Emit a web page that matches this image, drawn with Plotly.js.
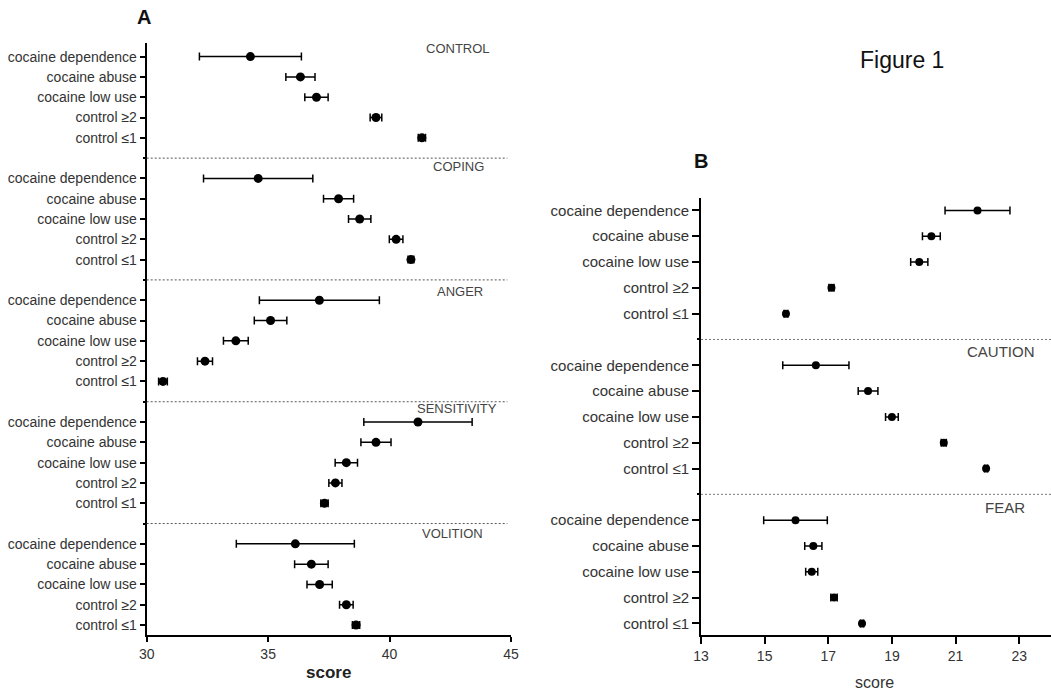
<!DOCTYPE html>
<html><head><meta charset="utf-8">
<script src="https://cdn.plot.ly/plotly-3.0.1.min.js"></script>
<style>html,body{margin:0;padding:0;background:#fff}#chart{width:1051px;height:692px}</style>
</head><body><div id="chart"></div>
<script>
// ---------- data ----------
const rowLabels = ['cocaine dependence', 'cocaine abuse', 'cocaine low use', 'control ≥2', 'control ≤1'];

const groupsA = ['CONTROL', 'COPING', 'ANGER', 'SENSITIVITY', 'VOLITION'];
const controlMean     = [34.27, 36.33, 36.99, 39.44, 41.33];
const controlErr      = [2.10, 0.60, 0.48, 0.24, 0.15];
const copingMean      = [34.59, 37.90, 38.77, 40.27, 40.88];
const copingErr       = [2.25, 0.62, 0.46, 0.28, 0.12];
const angerMean       = [37.11, 35.10, 33.67, 32.40, 30.67];
const angerErr        = [2.47, 0.67, 0.51, 0.31, 0.18];
const sensitivityMean = [41.17, 39.44, 38.22, 37.77, 37.32];
const sensitivityErr  = [2.23, 0.62, 0.46, 0.27, 0.15];
const volitionMean    = [36.12, 36.78, 37.12, 38.22, 38.62];
const volitionErr     = [2.43, 0.69, 0.52, 0.28, 0.15];

const groupsB = ['DESIRE', 'CAUTION', 'FEAR'];
const desireMean  = [21.69, 20.24, 19.86, 17.10, 15.67];
const desireErr   = [1.02, 0.28, 0.27, 0.08, 0.06];
const cautionMean = [16.61, 18.25, 19.00, 20.63, 21.96];
const cautionErr  = [1.04, 0.31, 0.20, 0.08, 0.05];
const fearMean    = [15.97, 16.53, 16.48, 17.18, 18.06];
const fearErr     = [1.00, 0.27, 0.19, 0.10, 0.05];

const xTicksA = [30, 35, 40, 45];
const xTicksB = [13, 15, 17, 19, 21, 23];

// ---------- build ----------
const W = 1051, H = 692;
const meansA = [controlMean, copingMean, angerMean, sensitivityMean, volitionMean];
const errsA  = [controlErr, copingErr, angerErr, sensitivityErr, volitionErr];
const meansB = [desireMean, cautionMean, fearMean];
const errsB  = [desireErr, cautionErr, fearErr];

// row position: each group has 5 rows plus one blank separator row
function rowPos(g, i, nG) { return (nG - 1 - g) * 6 + (rowLabels.length - 1 - i); }

const traces = [];
function addPanel(means, errs, groups, xa, ya, msize) {
  means.forEach((m, g) => {
    traces.push({
      type: 'scatter', mode: 'markers', xaxis: xa, yaxis: ya,
      x: m, y: m.map((_, i) => rowPos(g, i, groups.length)),
      marker: {symbol: 'circle', size: msize, color: '#000'},
      error_x: {type: 'data', array: errs[g], visible: true, color: '#000', thickness: 1.5, width: 4},
      showlegend: false, hoverinfo: 'skip', cliponaxis: false
    });
  });
}
addPanel(meansA, errsA, groupsA, 'x', 'y', 9);
addPanel(meansB, errsB, groupsB, 'x2', 'y2', 8);

function tickSet(groups) {
  const vals = [], text = [], blank = [];
  groups.forEach((_, g) => {
    rowLabels.forEach((lab, i) => { vals.push(rowPos(g, i, groups.length)); text.push(lab); });
    if (g < groups.length - 1) blank.push(rowPos(g, rowLabels.length - 1, groups.length) - 1);
  });
  return {vals, text, blank};
}
const tA = tickSet(groupsA), tB = tickSet(groupsB);

const shapes = [];
tA.blank.forEach(v => shapes.push({type: 'line', xref: 'x domain', yref: 'y', x0: 0, x1: 0.99, y0: v, y1: v,
  line: {color: '#555', width: 1, dash: '2px,2px'}}));
tB.blank.forEach(v => shapes.push({type: 'line', xref: 'x2 domain', yref: 'y2', x0: 0, x1: 1, y0: v, y1: v,
  line: {color: '#777', width: 1, dash: '2px,2px'}}));

const FONT = 'Liberation Sans, Arial, sans-serif';
const annotations = [];
const labXA = [0.948, 0.931, 0.929, 0.967, 0.929];
const labDYA = [0.41, 0.6, 0.42, 0.69, 0.49];
groupsA.forEach((name, g) => annotations.push({
  text: name, xref: 'x domain', yref: 'y', x: labXA[g], y: rowPos(g, 0, groupsA.length) + labDYA[g],
  xanchor: 'right', yanchor: 'middle', showarrow: false, font: {family: FONT, size: 13, color: '#444'}
}));
const labXB = [0.946, 0.96, 0.931];
const labDYB = [0.98, 0.55, 0.49];
groupsB.forEach((name, g) => annotations.push({
  text: name, xref: 'x2 domain', yref: 'y2', x: labXB[g], y: rowPos(g, 0, groupsB.length) + labDYB[g],
  xanchor: 'right', yanchor: 'middle', showarrow: false, font: {family: FONT, size: 15, color: '#444'}
}));
function paperAnn(text, px, py, size, extra) {
  annotations.push(Object.assign({text, xref: 'paper', yref: 'paper', x: px / W, y: 1 - py / H,
    xanchor: 'center', yanchor: 'middle', showarrow: false, font: {family: FONT, size, color: '#111'}}, extra || {}));
}
paperAnn('<b>A</b>', 143.5, 17, 20);
paperAnn('<b>B</b>', 701, 161, 20);
paperAnn('Figure 1', 902, 60, 23);
paperAnn('<b>score</b>', 328, 672, 17, {font: {family: FONT, size: 17, color: '#222'}});
paperAnn('score', 874, 682, 16, {font: {family: FONT, size: 16, color: '#333'}});

const axBase = {showgrid: false, zeroline: false, showline: true, linecolor: '#000', linewidth: 2,
  ticks: 'outside', tickwidth: 2, tickcolor: '#000', fixedrange: true,
  tickfont: {family: FONT, size: 14, color: '#333'}};

const layout = {
  width: W, height: H, margin: {l: 0, r: 0, t: 0, b: 0},
  paper_bgcolor: '#fff', plot_bgcolor: '#fff', showlegend: false, hovermode: false,
  xaxis: Object.assign({}, axBase, {domain: [146.7 / W, 511 / W], range: [30, 45], anchor: 'y',
    tickmode: 'array', tickvals: xTicksA, ticklen: 5}),
  yaxis: Object.assign({}, axBase, {domain: [57 / H, 649 / H], range: [-0.49, 28.67], anchor: 'x',
    tickmode: 'array', tickvals: tA.vals, ticktext: tA.text, ticklen: 5,
    minor: {tickmode: 'array', tickvals: tA.blank, ticks: 'outside', ticklen: 2, tickwidth: 2, tickcolor: '#000'}}),
  xaxis2: Object.assign({}, axBase, {domain: [701 / W, 1], range: [13, 24.0], anchor: 'y2',
    tickmode: 'array', tickvals: xTicksB, ticklen: 7}),
  yaxis2: Object.assign({}, axBase, {domain: [57 / H, 493.7 / H], range: [-0.45, 16.47], anchor: 'x2',
    tickmode: 'array', tickvals: tB.vals, ticktext: tB.text, ticklen: 7,
    tickfont: {family: FONT, size: 15, color: '#333'},
    minor: {tickmode: 'array', tickvals: tB.blank, ticks: 'outside', ticklen: 2, tickwidth: 2, tickcolor: '#000'}}),
  shapes, annotations
};

Plotly.newPlot('chart', traces, layout, {staticPlot: true, displayModeBar: false});
</script>
</body></html>
